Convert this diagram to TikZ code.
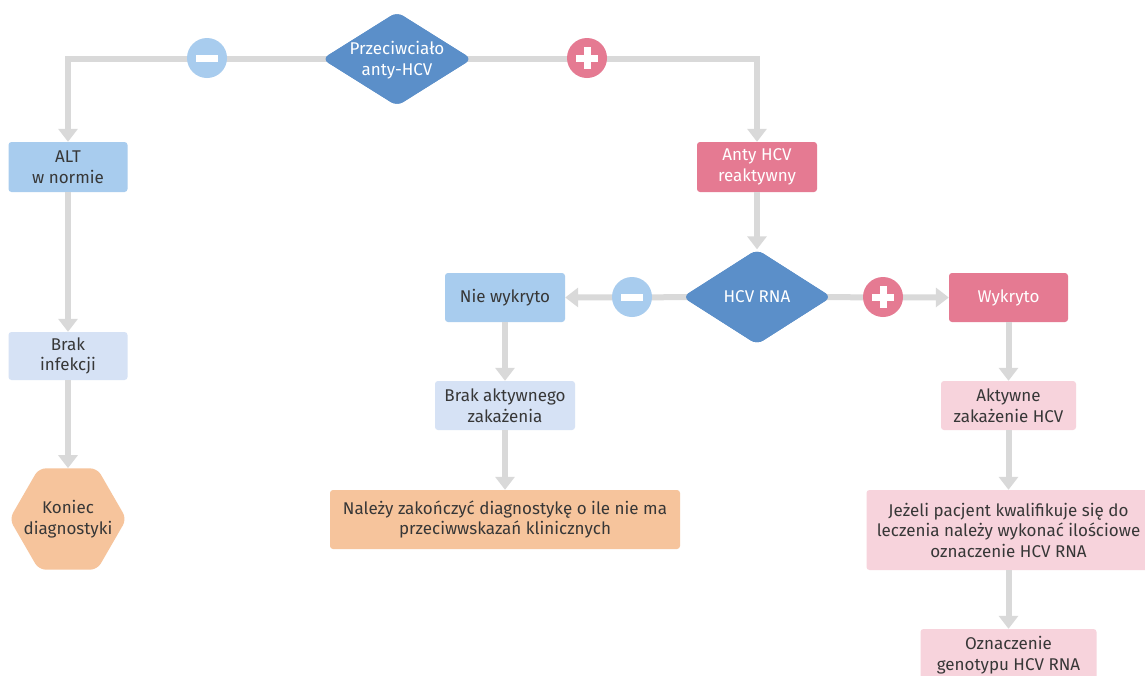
\documentclass[tikz,border=0pt]{standalone}
\usepackage{fontspec}
\setmainfont{Fira Sans}
\usetikzlibrary{shapes.geometric,arrows.meta}
\definecolor{dblue}{RGB}{91,143,201}
\definecolor{lblue}{RGB}{168,204,238}
\definecolor{lav}{RGB}{214,226,245}
\definecolor{pinkc}{RGB}{229,122,146}
\definecolor{lpink}{RGB}{247,211,220}
\definecolor{peach}{RGB}{246,196,156}
\definecolor{linegray}{RGB}{217,217,217}
\definecolor{txtdark}{RGB}{55,55,55}
\begin{document}
\begin{tikzpicture}[x=1pt,y=-1pt,
  box/.style={rectangle, rounded corners=3pt, inner sep=0pt, align=center,
    font=\fontsize{17}{20.5}\selectfont, text=txtdark},
  dia/.style={diamond, fill=dblue, inner sep=0pt, rounded corners=7pt},
  lbl/.style={align=center, font=\fontsize{17}{21}\selectfont, text=white, inner sep=0pt},
  conn/.style={draw=linegray, line width=6pt, -{Triangle[width=19pt,length=13pt]}},
  sign/.style={circle, minimum size=40pt, inner sep=0pt},
]
\useasboundingbox (0,0) rectangle (1145,675);
\clip (0,0) rectangle (1145,675);
\fill[white] (0,0) rectangle (1145,675);

% decision diamonds (shapes used as anchors)
\node[dia, minimum width=150pt, minimum height=94pt] (d1) at (397,59) {};
\node[dia, minimum width=149pt, minimum height=95pt] (d2) at (757,297) {};

% left branch
\node[box, fill=lblue, minimum width=119pt, minimum height=50pt] (alt) at (68,167) {ALT\\w normie};
\node[box, fill=lav, minimum width=119pt, minimum height=48pt] (brak) at (68,356) {Brak\\infekcji};
\node[regular polygon, regular polygon sides=6, minimum size=117pt, inner sep=0pt,
      fill=peach, rounded corners=7pt] (hex) at (68,519) {};
\node[box, fill=none] (hext) at (68,519) {Koniec\\diagnostyki};

% right branch
\node[box, fill=pinkc, text=white, minimum width=120pt, minimum height=50pt] (anty) at (757,167) {Anty HCV\\reaktywny};
\node[box, fill=lblue, minimum width=120pt, minimum height=49pt] (nie) at (505,297.5) {Nie wykryto};
\node[box, fill=pinkc, text=white, minimum width=119pt, minimum height=49pt] (wyk) at (1008.5,297.5) {Wykryto};
\node[box, fill=lav, minimum width=140pt, minimum height=49pt] (brakakt) at (505,405.5) {Brak aktywnego\\zakażenia};
\node[box, fill=peach, minimum width=350pt, minimum height=59pt] (nalezy) at (505,519.5) {Należy zakończyć diagnostykę o ile nie ma\\przeciwwskazań klinicznych};
\node[box, fill=lpink, minimum width=135pt, minimum height=49pt] (akt) at (1008.5,405.5) {Aktywne\\zakażenie HCV};
\node[box, fill=lpink, minimum width=284pt, minimum height=80pt] (jez) at (1008.5,530) {Jeżeli pacjent kwalifikuje się do\\leczenia należy wykonać ilościowe\\oznaczenie HCV RNA};
\node[box, fill=lpink, minimum width=176pt, minimum height=52pt] (ozn) at (1008.5,655) {Oznaczenie\\genotypu HCV RNA};

% connectors
\draw[conn] (d1.center) -| (alt.north);
\draw[conn] (d1.center) -| (anty.north);
\draw[conn] (alt.south) -- (brak.north);
\draw[conn] (brak.south) -- (hex.north);
\draw[conn] (anty.south) -- (d2.north);
\draw[conn] (d2.center) -- (nie.east);
\draw[conn] (d2.center) -- (wyk.west);
\draw[conn] (nie.south) -- (brakakt.north);
\draw[conn] (brakakt.south) -- (nalezy.north);
\draw[conn] (wyk.south) -- (akt.north);
\draw[conn] (akt.south) -- (jez.north);
\draw[conn] (jez.south) -- (ozn.north);

% diamonds drawn over the line ends, with their texts
\node[dia, minimum width=150pt, minimum height=94pt] (d1top) at (d1.center) {};
\node[lbl] (d1t) at (397,60) {Przeciwciało\\anty-HCV};
\node[dia, minimum width=149pt, minimum height=95pt] (d2top) at (d2.center) {};
\node[lbl] (d2t) at (757,297) {HCV RNA};

% signs
\node[sign, fill=lblue] (m1) at (207,58) {};
\fill[white] ([shift={(-11,-3.5)}]m1.center) rectangle ([shift={(11,3.5)}]m1.center);
\node[sign, fill=pinkc] (p1) at (587,58) {};
\fill[white] ([shift={(-11,-3.5)}]p1.center) rectangle ([shift={(11,3.5)}]p1.center);
\fill[white] ([shift={(-3.5,-11)}]p1.center) rectangle ([shift={(3.5,11)}]p1.center);
\node[sign, fill=lblue] (m2) at (632,297) {};
\fill[white] ([shift={(-11,-3.5)}]m2.center) rectangle ([shift={(11,3.5)}]m2.center);
\node[sign, fill=pinkc] (p2) at (883,297) {};
\fill[white] ([shift={(-11,-3.5)}]p2.center) rectangle ([shift={(11,3.5)}]p2.center);
\fill[white] ([shift={(-3.5,-11)}]p2.center) rectangle ([shift={(3.5,11)}]p2.center);
\end{tikzpicture}
\end{document}
